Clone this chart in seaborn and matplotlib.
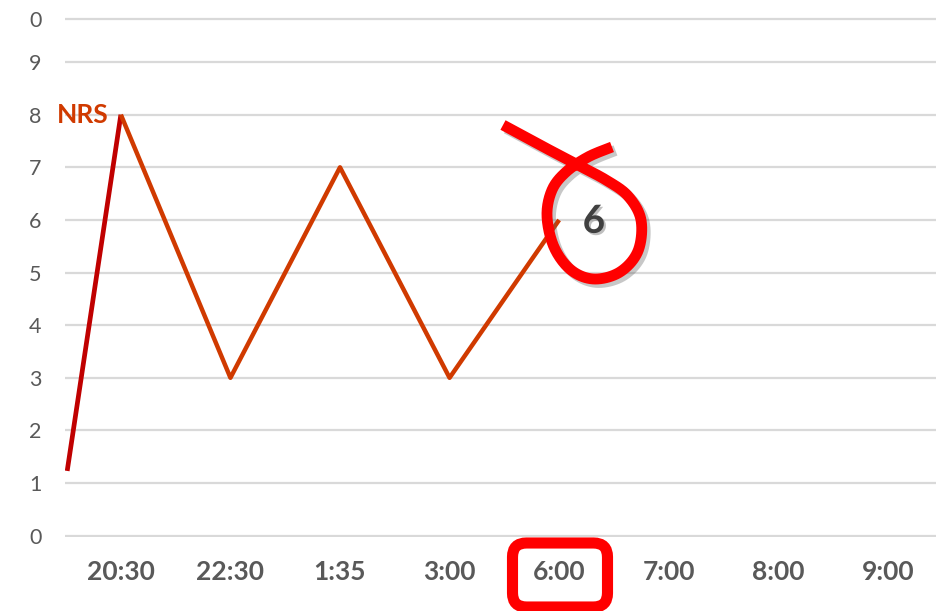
import numpy as np
import pandas as pd
import matplotlib
matplotlib.use("Agg")
import matplotlib.pyplot as plt
import matplotlib.transforms as mtransforms
import matplotlib.patheffects as pe
from matplotlib.patches import FancyBboxPatch
import seaborn as sns

# ---- data ----
times = ["20:30", "22:30", "1:35", "3:00", "6:00", "7:00", "8:00", "9:00"]
nrs_scores = [8, 3, 7, 3, 6]
lead_pos = [-0.49, 0]          # incoming segment from the previous reading
lead_vals = [1.23, 8]
ytick_vals = [0, 1, 2, 3, 4, 5, 6, 7, 8, 9, 9.82]
ytick_text = ["0", "1", "2", "3", "4", "5", "6", "7", "8", "9", "0"]
series_name = "NRS"
marked_value = nrs_scores[-1]

# hand-drawn red marks (pixel coordinates, origin top-left)
loop_pts = [(503, 125), (540, 145), (576, 164), (606, 180), (628, 196),
            (641, 220), (638, 251), (620, 272), (594, 279), (571, 270),
            (554, 247), (547, 216), (552, 190), (566, 172), (588, 157),
            (612, 147)]
box_rect = (512.5, 543, 95, 64)

W, H = 936, 611
sns.set_theme(style="white")
plt.rcParams["font.family"] = ["Lato", "DejaVu Sans"]

fig = plt.figure(figsize=(W / 100, H / 100), dpi=100)
ax = fig.add_axes([65 / W, (H - 536.7) / H, 871 / W, 536.7 / H])

df = pd.DataFrame({"pos": np.arange(len(nrs_scores)), "score": nrs_scores})
lead = pd.DataFrame({"pos": lead_pos, "score": lead_vals})

sns.lineplot(data=lead, x="pos", y="score", ax=ax, color="#C00000",
             linewidth=3.4, sort=False, solid_capstyle="butt")
sns.lineplot(data=df, x="pos", y="score", ax=ax, color="#D03A00",
             linewidth=3.2, sort=False, solid_capstyle="butt")

ax.set_xlim(-0.51, 7.44)
ax.set_ylim(-0.02, 10.18)
ax.set_xticks(range(len(times)))
ax.set_xticklabels(times, fontsize=19, fontweight="bold", color="#595959")
ax.set_yticks(ytick_vals)
ax.set_yticklabels(ytick_text, fontsize=15.5, color="#595959")
ax.tick_params(axis="x", length=0, pad=17)
ax.tick_params(axis="y", length=0, pad=17)
for lbl in ax.get_yticklabels():
    lbl.set_horizontalalignment("right")
ax.set_xlabel("")
ax.set_ylabel("")
for s in ax.spines.values():
    s.set_visible(False)
ax.grid(axis="y", color="#D9D9D9", linewidth=1.6)
ax.grid(axis="x", visible=False)
ax.set_axisbelow(True)

# series name beside the peak
ax.annotate(series_name, xy=(0, nrs_scores[0]), xytext=(-9, 0),
            textcoords="offset points", ha="right", va="center",
            fontsize=19, fontweight="bold", color="#D03A00")

# value label at last reading
shadow = [pe.SimplePatchShadow(offset=(1.5, -1.5), shadow_rgbFace="#808080",
                               alpha=0.5), pe.Normal()]
ax.annotate(str(marked_value), xy=(len(nrs_scores) - 1, marked_value),
            xytext=(25, -1), textcoords="offset points", ha="center",
            va="center", fontsize=28, fontweight="bold", color="#404040",
            path_effects=shadow)

# pixel transform for the pen marks
px = mtransforms.Affine2D().scale(1 / W, -1 / H).translate(0, 1) + fig.transFigure


def catmull_rom(points, n=20):
    p = np.asarray(points, dtype=float)
    p = np.vstack([p[0], p, p[-1]])
    out = []
    for i in range(1, len(p) - 2):
        p0, p1, p2, p3 = p[i - 1], p[i], p[i + 1], p[i + 2]
        t = np.linspace(0, 1, n, endpoint=False)[:, None]
        seg = 0.5 * ((2 * p1) + (-p0 + p2) * t +
                     (2 * p0 - 5 * p1 + 4 * p2 - p3) * t ** 2 +
                     (-p0 + 3 * p1 - 3 * p2 + p3) * t ** 3)
        out.append(seg)
    out.append(p[-2][None, :])
    return np.vstack(out)


curve = catmull_rom(loop_pts)
pen_shadow = [pe.SimpleLineShadow(offset=(2.5, -2.5), shadow_color="#606060",
                                  alpha=0.35), pe.Normal()]
fig.add_artist(plt.Line2D(curve[:, 0], curve[:, 1], transform=px,
                          color="#FF0000", linewidth=7.8,
                          solid_capstyle="butt", solid_joinstyle="round",
                          path_effects=pen_shadow))

bx, by, bw, bh = box_rect
box = FancyBboxPatch((bx, by), bw, bh,
                     boxstyle="round,pad=0,rounding_size=14",
                     transform=px, facecolor="none", edgecolor="#FF0000",
                     linewidth=8)
fig.add_artist(box)

fig.savefig("out.png", dpi=100)
